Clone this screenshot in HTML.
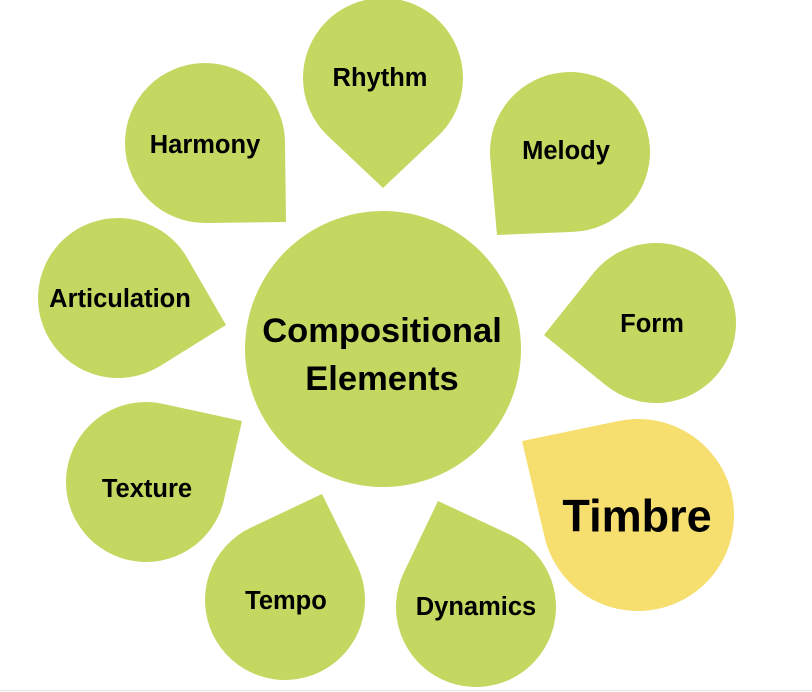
<!DOCTYPE html>
<html><head><style>
body{margin:0;background:#fff;width:812px;height:692px;overflow:hidden}
svg{display:block}
text{font-family:"Liberation Sans",sans-serif;font-weight:bold;fill:#000;text-anchor:middle;dominant-baseline:central}
</style></head><body>
<svg id="s" width="812" height="692" viewBox="0 0 812 692">
<line x1="0" y1="690.5" x2="812" y2="690.5" stroke="#e6e6e6" stroke-width="1"/>
<circle cx="383" cy="349" r="138" fill="#c4d760"/>
<g id="g"></g>
<text x="382" y="331" font-size="34.5">Compositional</text>
<text x="382" y="379" font-size="34.5">Elements</text>
<text x="380" y="78" font-size="25.5">Rhythm</text>
<text x="566" y="151" font-size="25.5">Melody</text>
<text x="205" y="145" font-size="25.5">Harmony</text>
<text x="120" y="299" font-size="25.5">Articulation</text>
<text x="652" y="324" font-size="25.5">Form</text>
<text x="147" y="489" font-size="25.5">Texture</text>
<text x="286" y="601" font-size="25.5">Tempo</text>
<text x="476" y="607" font-size="25.5">Dynamics</text>
<text x="637" y="516" font-size="45">Timbre</text>
</svg>
<script>
var d=[[383,78,80,383,188,'#c4d760'],[570,152,80,497,235,'#c4d760'],[205,143,80,286,222,'#c4d760'],
[118,298,80,226,325,'#c4d760'],[656,323,80,544,335,'#c4d760'],[146,482,80,242,421,'#c4d760'],
[285,600,80,322,494,'#c4d760'],[476,607,80,438,501,'#c4d760'],[638,515,96,522,441,'#f6df6e']];
var g=document.getElementById('g'),h='';
d.forEach(function(a){var cx=a[0],cy=a[1],r=a[2],tx=a[3],ty=a[4];
var dx=tx-cx,dy=ty-cy,dd=Math.sqrt(dx*dx+dy*dy),th=Math.atan2(dy,dx),al=Math.acos(Math.min(1,r/dd));
var p1=[cx+r*Math.cos(th+al),cy+r*Math.sin(th+al)],p2=[cx+r*Math.cos(th-al),cy+r*Math.sin(th-al)];
h+='<path fill="'+a[5]+'" d="M'+tx+' '+ty+' L'+p1[0]+' '+p1[1]+' A'+r+' '+r+' 0 1 1 '+p2[0]+' '+p2[1]+' Z"/>';});
g.innerHTML=h;
</script>
</body></html>
